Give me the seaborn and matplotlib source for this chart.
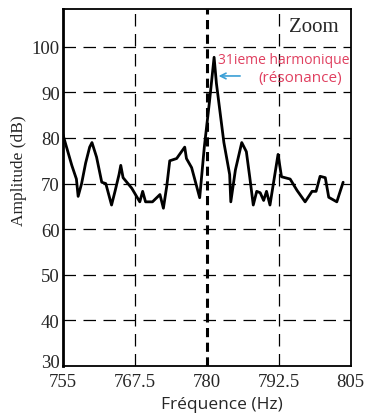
import pandas as pd
import matplotlib.pyplot as plt
import matplotlib.transforms as mtransforms
import seaborn as sns

# values
freq = [755.0, 755.8, 756.6, 757.4, 757.7, 758.3, 759.0, 759.7, 760.1, 760.9,
        761.8, 762.5, 763.5, 764.1, 764.8, 765.1, 765.5, 767.0, 768.4, 768.9,
        769.4, 770.6, 771.9, 772.5, 773.1, 773.6, 774.8, 776.2, 776.5, 777.4,
        778.8, 779.6, 780.5, 781.3, 781.7, 782.2, 783.0, 784.0, 784.2, 785.0,
        786.1, 786.9, 787.5, 788.1, 788.7, 789.3, 789.9, 790.4, 791.0, 792.4,
        793.0, 794.5, 795.7, 797.1, 798.3, 799.0, 799.7, 800.6, 801.2, 802.6,
        803.7]
amp = [81.0, 77.5, 74.0, 71.0, 67.2, 70.0, 74.5, 78.0, 79.0, 75.8,
       70.3, 70.0, 65.3, 68.3, 72.0, 74.0, 71.3, 69.0, 66.0, 68.3,
       66.0, 66.0, 67.6, 64.6, 69.6, 75.0, 75.5, 78.0, 75.5, 73.5,
       66.9, 78.0, 88.0, 97.7, 92.0, 87.0, 79.0, 72.0, 66.0, 73.0,
       79.0, 77.0, 71.3, 65.3, 68.3, 68.0, 66.3, 68.3, 65.3, 76.4,
       71.5, 71.0, 68.5, 66.0, 68.3, 68.3, 71.6, 71.3, 67.0, 66.0,
       70.3]
x_ticks = [755, 767.5, 780, 792.5, 805]
x_tick_labels = ["755", "767.5", "780", "792.5", "805"]
y_ticks = [30, 40, 50, 60, 70, 80, 90, 100]

df = pd.DataFrame({"freq": freq, "amp": amp})

sns.set_style("white")
plt.rcParams["font.family"] = ["Liberation Serif", "DejaVu Serif"]

fig = plt.figure(figsize=(3.66, 4.14), dpi=100)
ax = fig.add_axes([0.171, 0.1135, 0.787, 0.8625])

dash = (0, (10, 6))
for yv in y_ticks[1:]:
    ax.axhline(yv, color="black", lw=0.9, ls=dash, zorder=1)
for xv in x_ticks[1:-1]:
    if xv == 780:
        ax.axvline(xv, color="black", lw=2.2, ls=(0, (3, 1.8)), zorder=1)
    else:
        ax.axvline(xv, color="black", lw=0.9, ls=dash, zorder=1)

sns.lineplot(data=df, x="freq", y="amp", ax=ax, color="black", lw=2.0, zorder=3)

ax.set_xlim(755, 805)
ax.set_ylim(30, 108.3)
ax.set_xticks(x_ticks)
ax.set_xticklabels(x_tick_labels)
ax.set_yticks(y_ticks)
ax.tick_params(length=0, labelsize=13.5)
ax.tick_params(axis="x", pad=5)
ax.tick_params(axis="y", pad=2)
# lift the "30" label a little, as in the original
lab30 = ax.get_yticklabels()[0]
lab30.set_transform(lab30.get_transform() + mtransforms.ScaledTranslation(0, 4 / 72, fig.dpi_scale_trans))
for s in ax.spines.values():
    s.set_color("black")
    s.set_linewidth(1.3)
ax.spines["left"].set_linewidth(2.0)

ax.set_ylabel("Amplitude (dB)", fontsize=12.5)
ax.yaxis.set_label_coords(-0.125, 0.55)
ax.set_xlabel("Fréquence (Hz)", fontsize=12.5, family=["Open Sans", "DejaVu Sans"])
ax.xaxis.set_label_coords(0.553, -0.085)

ax.text(803, 104.5, "Zoom", fontsize=15, ha="right", va="center")
ax.text(781.9, 97.3, "31ieme harmonique", fontsize=10, color="#e04060",
        family=["Open Sans", "DejaVu Sans"], ha="left", va="center")
ax.text(803.5, 93.3, "(résonance)", fontsize=11, color="#e04060",
        family=["Open Sans", "DejaVu Sans"], ha="right", va="center")
ax.annotate("", xy=(781.6, 93.6), xytext=(786.3, 93.6),
            arrowprops=dict(arrowstyle="->", color="#3a9fd6", lw=1.2))

plt.savefig("out.png", dpi=100)
plt.close()
